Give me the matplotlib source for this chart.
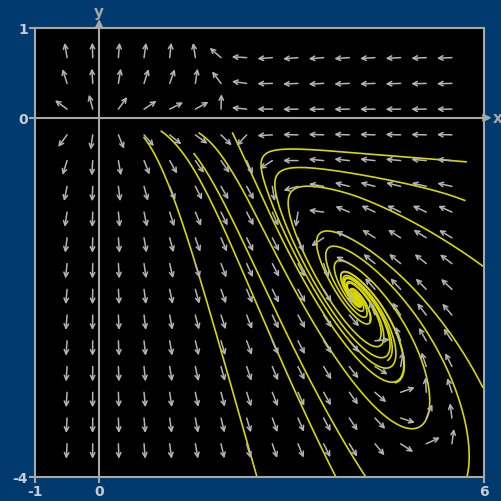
import numpy as np
import matplotlib
matplotlib.use("Agg")
import matplotlib.pyplot as plt

# window
x_min, x_max = -1, 6
y_min, y_max = -4, 1

# direction field grid (arrow tails)
grid_x = np.linspace(-0.5, 5.5, 16)
grid_y = np.linspace(0.67, -3.63, 16)

# system: x' = x(2 - x - y),  y' = K y (C - x - B y) * damping in the upper right
A_x = 2.0
K_y = 2.0
C_y = 2.8
B_y = 0.6
Q_damp = 1.0

# clicked starting points of the solution curves
seeds_x = [0.70, 0.97, 1.56, 1.48, 2.08, 5.72, 5.70, 5.98, 5.98, 5.74,
           4.62, 4.50, 4.36, 4.22]
seeds_y = [-0.22, -0.15, -0.17, -0.40, -0.17, -0.49, -0.92, -1.65, -3.0, -3.98,
           -2.95, -2.70, -2.48, -2.26]

x_ticks = [-1, 0, 6]
y_ticks = [-4, 0, 1]

bg_blue = "#003a6e"
arrow_grey = "#b4b4b4"
curve_yellow = "#d8d800"
axis_grey = "#a8a8a8"


def field(x, y):
    u = x * (A_x - x - y)
    damp = 1.0 / (1.0 + Q_damp * max(y + 0.9, 0.0) * max(x - 2.0, 0.0))
    v = K_y * y * (C_y - x - B_y * y) * damp
    return u, v


def trajectory(x0, y0, dt=0.002, n=12000):
    px, py = [x0], [y0]
    x, y = x0, y0
    for _ in range(n):
        k1 = field(x, y)
        k2 = field(x + dt / 2 * k1[0], y + dt / 2 * k1[1])
        k3 = field(x + dt / 2 * k2[0], y + dt / 2 * k2[1])
        k4 = field(x + dt * k3[0], y + dt * k3[1])
        x = x + dt / 6 * (k1[0] + 2 * k2[0] + 2 * k3[0] + k4[0])
        y = y + dt / 6 * (k1[1] + 2 * k2[1] + 2 * k3[1] + k4[1])
        px.append(x)
        py.append(y)
        if not (x_min - 0.05 < x < x_max + 0.05 and y_min - 0.05 < y < y_max + 0.05):
            break
    return np.array(px), np.array(py)


fig = plt.figure(figsize=(5.02, 5.02), dpi=100, facecolor=bg_blue)
ax = fig.add_axes([35 / 502, 24 / 502, 449 / 502, 449 / 502])
ax.set_facecolor("black")
ax.set_xlim(x_min, x_max)
ax.set_ylim(y_min, y_max)

# pixels per unit
sx = 449 / (x_max - x_min)
sy = 449 / (y_max - y_min)
arrow_len = 15

for gy in grid_y:
    for gx in grid_x:
        u, v = field(gx, gy)
        du, dv = u * sx, v * sy
        norm = np.hypot(du, dv)
        if norm == 0:
            continue
        ex = gx + du / norm * arrow_len / sx
        ey = gy + dv / norm * arrow_len / sy
        ax.annotate("", xy=(ex, ey), xytext=(gx, gy),
                    arrowprops=dict(arrowstyle="->", color=arrow_grey, lw=1.1,
                                    shrinkA=0, shrinkB=0, mutation_scale=8))

for sx0, sy0 in zip(seeds_x, seeds_y):
    tx, ty = trajectory(sx0, sy0)
    ax.plot(tx, ty, color=curve_yellow, lw=1.2)

# coordinate axes
ax.axhline(0, color=axis_grey, lw=1.5)
ax.axvline(0, color=axis_grey, lw=1.5)
ax.annotate("", xy=(6.12, 0), xytext=(6.0, 0), annotation_clip=False,
            arrowprops=dict(arrowstyle="-|>", color=axis_grey, lw=1.5, mutation_scale=11,
                            shrinkA=0, shrinkB=0))
ax.annotate("", xy=(0, 1.1), xytext=(0, 1.0), annotation_clip=False,
            arrowprops=dict(arrowstyle="-|>", color=axis_grey, lw=1.5, mutation_scale=11,
                            shrinkA=0, shrinkB=0))
ax.text(6.14, 0, "x", color=axis_grey, fontsize=11, fontweight="bold", va="center", ha="left")
ax.text(0, 1.1, "y", color=axis_grey, fontsize=11, fontweight="bold", va="bottom", ha="center")

for sp in ax.spines.values():
    sp.set_color(axis_grey)
    sp.set_linewidth(1.5)

ax.set_xticks(x_ticks)
ax.set_yticks(y_ticks)
ax.set_xticklabels([str(t) for t in x_ticks])
ax.set_yticklabels([str(t) for t in y_ticks])
ax.tick_params(colors=axis_grey, labelcolor="#c8ccd4", labelsize=10, length=4, width=1.5, pad=1)
for lab in ax.get_xticklabels() + ax.get_yticklabels():
    lab.set_fontweight("bold")

fig.savefig("out.png", dpi=100, facecolor=bg_blue)
